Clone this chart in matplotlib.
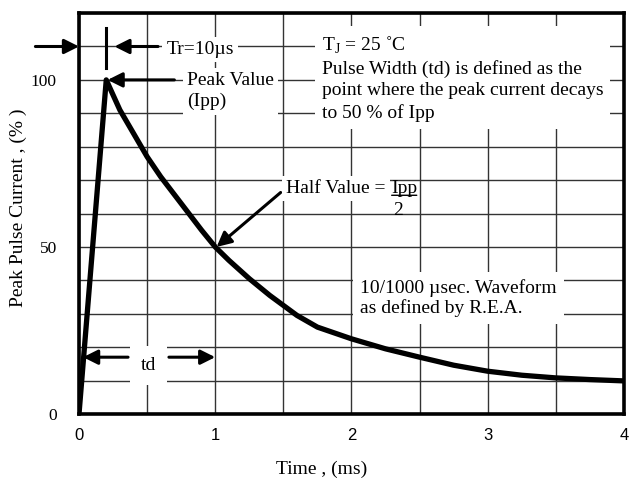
import numpy as np
import matplotlib
matplotlib.use('Agg')
import matplotlib.pyplot as plt

########################################
# PULSE WAVEFORM (10/1000 usec)
########################################

time_ms = [0, 0.2, 0.3, 0.4, 0.5, 0.6, 0.75, 0.9, 1.0, 1.1, 1.25, 1.4, 1.5,
           1.6, 1.75, 2.0, 2.25, 2.5, 2.75, 3.0, 3.25, 3.5, 3.75, 4.0]
current_pct = [0, 100, 91, 84, 77, 71, 63, 55, 50, 46, 40.5, 35.5, 32.5,
               29.5, 26, 22.5, 19.5, 17, 14.6, 12.8, 11.6, 10.8, 10.3, 9.9]

x_ticks = [0, 1, 2, 3, 4]
y_ticks = [0, 50, 100]

SERIF = 'Liberation Serif'
SANS = 'Liberation Sans'
FS = 14

fig = plt.figure(figsize=(6.29, 4.83), dpi=100)
ax = fig.add_axes([0.1256, 0.1429, 0.8664, 0.830])

ax.set_xlim(0, 4)
ax.set_ylim(0, 120)
ax.set_xticks(np.arange(0, 4.01, 0.5), minor=True)
ax.set_yticks(np.arange(0, 121, 10), minor=True)
ax.set_xticks(x_ticks)
ax.set_yticks(y_ticks)
ax.set_xticklabels([str(t) for t in x_ticks], fontfamily=SANS, fontsize=12)
ax.set_yticklabels([str(t) for t in y_ticks], fontfamily=SERIF, fontsize=12.5)
ax.tick_params(which='both', length=0)
ax.tick_params(axis='x', pad=10)
ax.tick_params(axis='y', pad=16)
ax.grid(which='both', color='#333333', lw=1.0)
ax.set_axisbelow(True)
for s in ax.spines.values():
    s.set_linewidth(2.6)

ax.plot(time_ms, current_pct, color='black', lw=3.8, solid_joinstyle='round', zorder=3)

ax.set_xlabel('Time , (ms)', fontfamily=SERIF, fontsize=FS)
ax.set_ylabel('Peak Pulse Current , (% )', fontfamily=SERIF, fontsize=FS)
ax.xaxis.set_label_coords(0.446, -0.117)
ax.yaxis.set_label_coords(-0.096, 0.514)

arrow = dict(arrowstyle='-|>', color='black', lw=2.2, mutation_scale=22, shrinkA=0, shrinkB=0)
white = dict(facecolor='white', edgecolor='none', pad=3)

# Tr = 10 us
ax.annotate('', xy=(0, 110), xytext=(-0.32, 110), arrowprops=arrow, annotation_clip=False)
ax.annotate('', xy=(0.26, 110), xytext=(0.58, 110), arrowprops=arrow)
ax.plot([0.2, 0.2], [103.5, 115.5], color='black', lw=2.2)
ax.text(0.64, 109.2, 'Tr=10µs', fontfamily=SERIF, fontsize=FS, va='center', bbox=white, zorder=4)

# peak value
ax.annotate('', xy=(0.21, 100), xytext=(0.70, 100), arrowprops=arrow)
ax.text(0.79, 102.4, 'Peak Value\n(Ipp)', fontfamily=SERIF, fontsize=FS, va='top',
        linespacing=1.32, bbox=white, zorder=4)

# description block
ax.text(1.78, 113.6,
        'T$_\\mathregular{J}$ = 25 ˚C\nPulse Width (td) is defined as the\n'
        'point where the peak current decays\nto 50 % of Ipp',
        fontfamily=SERIF, fontsize=FS, va='top', linespacing=1.32,
        bbox=dict(facecolor='white', edgecolor='none', pad=5), zorder=4)

# half value
ax.annotate('', xy=(1.01, 50), xytext=(1.48, 66.3), arrowprops=arrow)
half = ax.text(1.52, 67.5, 'Half Value =', fontfamily=SERIF, fontsize=FS, va='center',
               bbox=white, zorder=4)
ipp = ax.annotate('Ipp', xy=(1, 0.5), xycoords=half, xytext=(4, 0), textcoords='offset points',
                  fontfamily=SERIF, fontsize=FS, va='center', ha='left', zorder=5)
ax.annotate('', xy=(0.02, 0.1), xycoords=ipp, xytext=(0.98, 0.1), textcoords=ipp,
            arrowprops=dict(arrowstyle='-', color='black', lw=1.0, shrinkA=0, shrinkB=0), zorder=5)
ax.annotate('2', xy=(0, 0), xycoords=ipp, xytext=(1.5, -10), textcoords='offset points',
            fontfamily=SERIF, fontsize=FS, va='center', ha='left', zorder=5)

# waveform note
ax.text(2.065, 40.5, '10/1000 µsec. Waveform\nas defined by R.E.A.',
        fontfamily=SERIF, fontsize=FS, va='top', linespacing=1.22,
        bbox=dict(facecolor='white', edgecolor='none', pad=5), zorder=4)

# td
ax.annotate('', xy=(0.03, 17), xytext=(0.36, 17), arrowprops=arrow)
ax.annotate('', xy=(1.0, 17), xytext=(0.66, 17), arrowprops=arrow)
ax.text(0.51, 14.6, 'td', fontfamily=SERIF, fontsize=FS, ha='center', va='center',
        bbox=dict(facecolor='white', edgecolor='none', pad=8), zorder=4)

fig.savefig('out.png', dpi=100)
